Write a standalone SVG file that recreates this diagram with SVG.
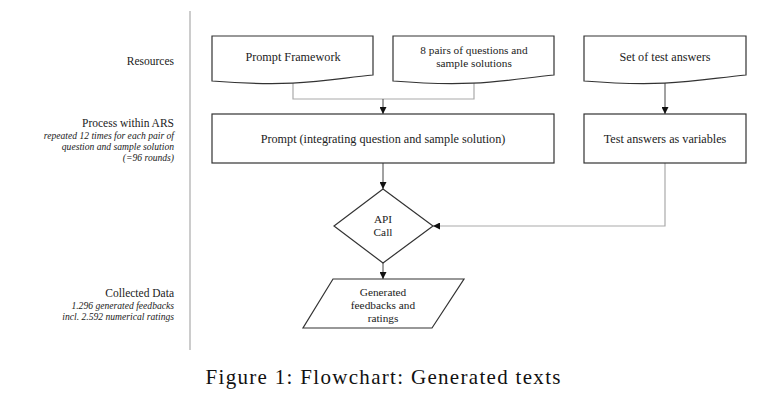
<svg xmlns="http://www.w3.org/2000/svg" width="782" height="407" viewBox="0 0 782 407">
<defs>
<style>
text{font-family:"Liberation Serif","Times New Roman",serif;fill:#222}
.n{font-size:12.2px;text-anchor:middle}
.m{font-size:11.3px;text-anchor:middle}
.l{font-size:11.5px;text-anchor:end}
.li{font-size:9.6px;font-style:italic;text-anchor:end}
.cap{font-size:21px;text-anchor:middle;fill:#111}
.shape{fill:#fff;stroke:#333;stroke-width:1.2}
.c{fill:none;stroke:#444;stroke-width:1}
.cg{fill:none;stroke:#aaa;stroke-width:1.2}
</style>
<marker id="ah" viewBox="0 0 10 10" refX="10" refY="5" markerWidth="7" markerHeight="7" orient="auto" markerUnits="userSpaceOnUse">
<path d="M0,0 L10,5 L0,10 z" fill="#111"/>
</marker>
</defs>
<rect width="782" height="407" fill="#fff"/>
<line x1="190" y1="11" x2="190" y2="350" stroke="#999" stroke-width="1"/>
<g id="labels">
<text class="l" x="174" y="65">Resources</text>
<text class="l" x="174" y="127">Process within ARS</text>
<text class="li" x="174" y="139">repeated 12 times for each pair of</text>
<text class="li" x="174" y="150">question and sample solution</text>
<text class="li" x="174" y="161">(=96 rounds)</text>
<text class="l" x="174" y="297">Collected Data</text>
<text class="li" x="174" y="309">1.296 generated feedbacks</text>
<text class="li" x="174" y="320">incl. 2.592 numerical ratings</text>
</g>
<g id="connectors">
<path class="cg" d="M293,83 V99 H474 V81"/>
<path class="c" d="M383,99 V114" marker-end="url(#ah)"/>
<path class="c" d="M665,83 V114" marker-end="url(#ah)"/>
<path class="c" d="M383,163 V189" marker-end="url(#ah)"/>
<path class="cg" d="M665,163 V226 H433" marker-end="url(#ah)"/>
<path class="c" d="M383,263 V279" marker-end="url(#ah)"/>
</g>
<g id="prompt-framework">
<path class="shape" d="M212,36 H373 V75 C330,79 300,88 212,81 Z"/>
<text class="n" x="293" y="61">Prompt Framework</text>
</g>
<g id="pairs">
<path class="shape" d="M393,36 H554 V75 C510,79 480,88 393,81 Z"/>
<text class="m" x="474" y="54">8 pairs of questions and</text>
<text class="m" x="474" y="67">sample solutions</text>
</g>
<g id="test-answers">
<path class="shape" d="M584,36 H746 V75 C702,79 672,88 584,81 Z"/>
<text class="n" x="665" y="61">Set of test answers</text>
</g>
<g id="prompt">
<rect class="shape" x="212" y="114" width="342" height="49"/>
<text class="n" x="383" y="143">Prompt (integrating question and sample solution)</text>
</g>
<g id="variables">
<rect class="shape" x="584" y="114" width="162" height="49"/>
<text class="n" x="665" y="143">Test answers as variables</text>
</g>
<g id="api-call">
<path class="shape" d="M383,189 L433,226 L383,263 L334,226 Z"/>
<text class="m" x="383" y="223">API</text>
<text class="m" x="383" y="236">Call</text>
</g>
<g id="output">
<path class="shape" d="M333,279 H464 L432,328 H303 Z"/>
<text class="m" x="383" y="296">Generated</text>
<text class="m" x="383" y="309">feedbacks and</text>
<text class="m" x="383" y="322">ratings</text>
</g>
<text class="cap" x="383" y="384" textLength="355" lengthAdjust="spacing">Figure 1: Flowchart: Generated texts</text>
</svg>
